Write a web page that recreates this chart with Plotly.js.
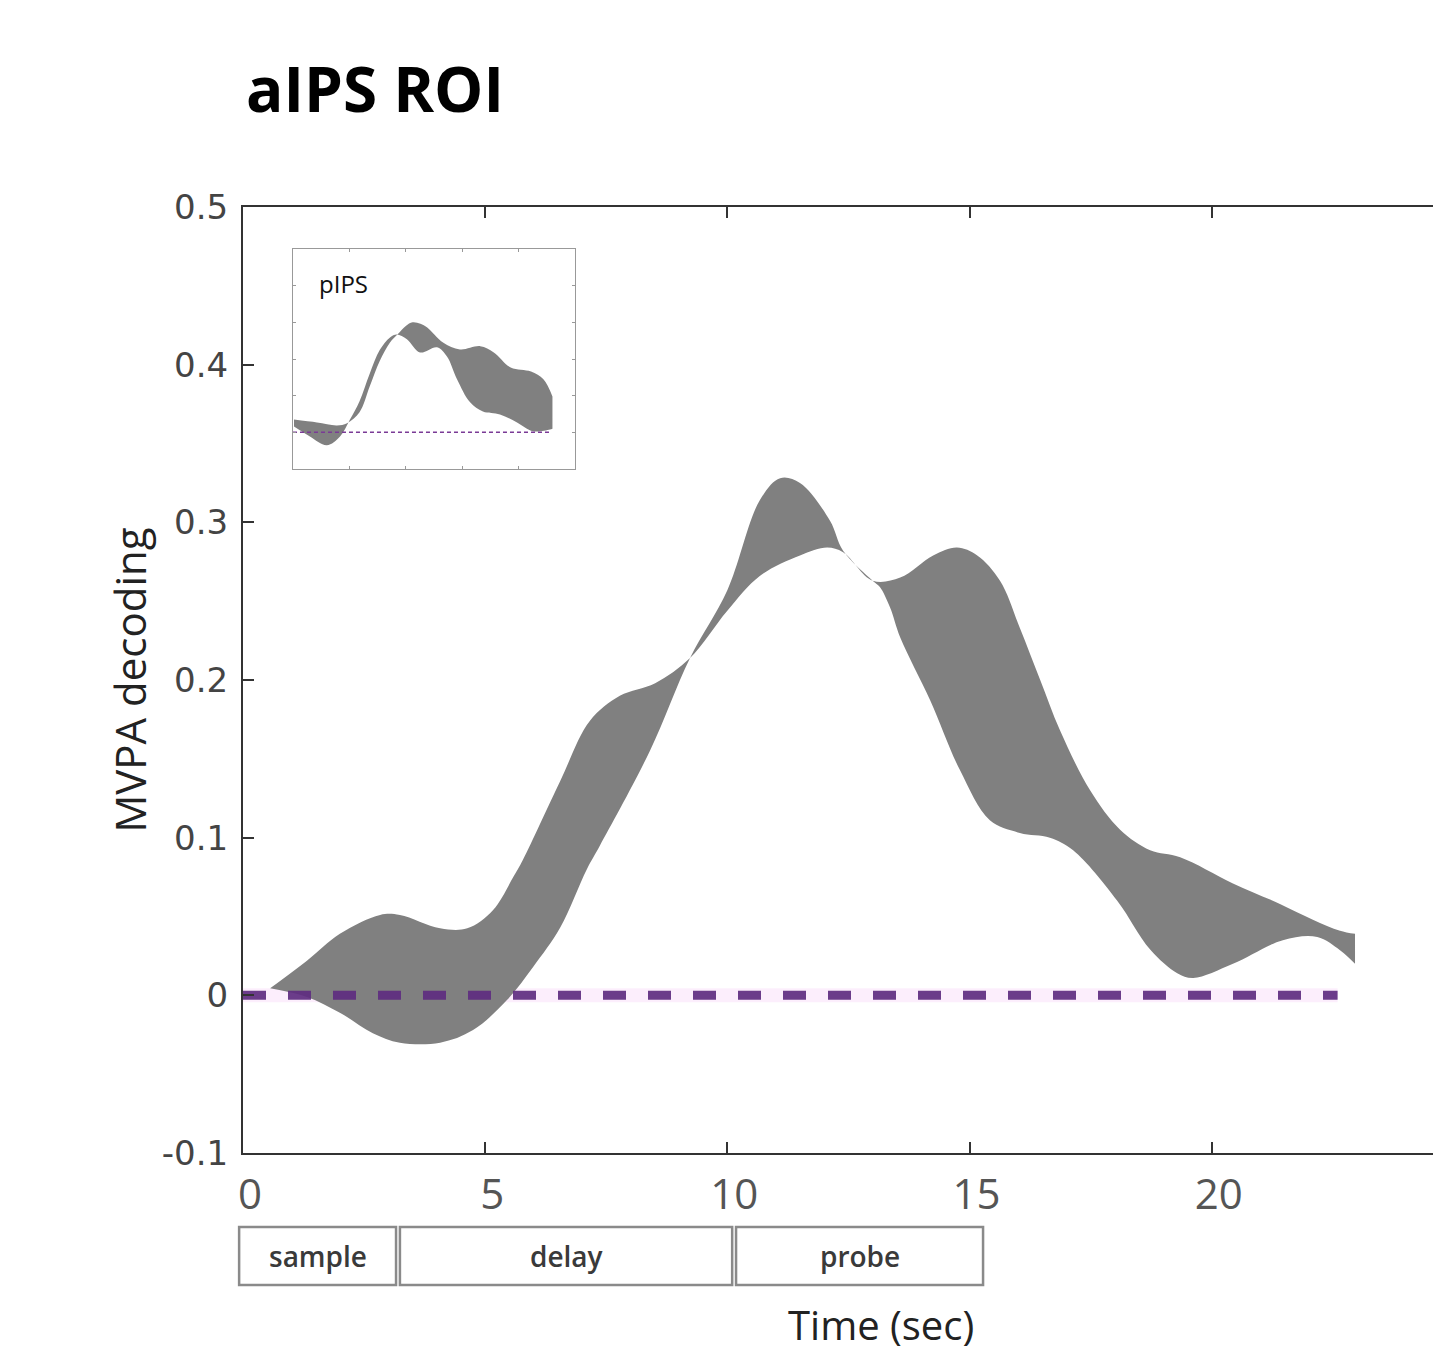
<!DOCTYPE html>
<html>
<head>
<meta charset="utf-8">
<script src="https://cdn.plot.ly/plotly-3.0.1.min.js"></script>
<style>
  html, body { margin: 0; padding: 0; background: #ffffff; }
  #chart { width: 1433px; height: 1355px; }
</style>
</head>
<body>
<div id="chart"></div>
<script>
// ---- Data ----
// aIPS main band: two bounding curves (they cross, the band is filled between them)
const aipsTimeA = [0.56, 1.32, 2.0, 2.83, 3.24, 4.07, 4.63, 5.16, 5.58, 5.78, 6.55, 7.16, 7.78, 8.51, 9.23, 10.0, 10.67, 11.5, 12.06, 12.39, 13.0, 13.57, 14.25, 14.74, 15.16, 15.63, 16.04, 16.46, 16.87, 17.49, 18.11, 18.73, 19.35, 20.44, 21.41, 22.09, 22.65, 22.96];
const aipsValA  = [0.0045, 0.022, 0.039, 0.051, 0.051, 0.0425, 0.0425, 0.054, 0.075, 0.086, 0.136, 0.174, 0.190, 0.198, 0.214, 0.244, 0.266, 0.279, 0.284, 0.281, 0.263, 0.265, 0.279, 0.284, 0.279, 0.263, 0.233, 0.200, 0.168, 0.130, 0.105, 0.092, 0.0876, 0.071, 0.058, 0.048, 0.041, 0.039];
const aipsTimeB = [0.56, 1.32, 2.0, 2.68, 3.24, 4.07, 4.75, 5.45, 5.99, 6.55, 7.1, 7.37, 8.4, 9.23, 10.0, 10.67, 11.09, 11.5, 12.12, 12.39, 13.0, 13.15, 13.36, 13.57, 14.19, 14.8, 15.42, 16.04, 16.66, 17.14, 18.05, 18.73, 19.29, 19.62, 20.44, 21.47, 22.18, 22.65, 22.96];
const aipsValB  = [0.0045, -0.001, -0.011, -0.024, -0.030, -0.030, -0.022, -0.003, 0.018, 0.043, 0.080, 0.095, 0.155, 0.214, 0.257, 0.314, 0.328, 0.325, 0.301, 0.282, 0.263, 0.259, 0.246, 0.227, 0.187, 0.143, 0.111, 0.103, 0.100, 0.092, 0.060, 0.029, 0.014, 0.011, 0.020, 0.035, 0.037, 0.0286, 0.020];

// pIPS inset band
const pipsTimeP = [0.09, 2.13, 3.9, 4.79, 5.9, 6.8, 7.7, 8.6, 9.3, 10.0, 10.6, 11.3, 11.9, 13.3, 14.8, 16.6, 17.8, 19.3, 21.1, 22.2, 23.0];
const pipsValP  = [0.035, 0.027, 0.019, 0.025, 0.055, 0.125, 0.195, 0.245, 0.268, 0.290, 0.300, 0.296, 0.286, 0.245, 0.226, 0.235, 0.218, 0.177, 0.166, 0.145, 0.098];
const pipsTimeQ = [0.09, 1.5, 3.0, 4.17, 5.05, 5.9, 6.8, 7.7, 8.6, 9.2, 10.1, 11.26, 12.77, 13.65, 14.54, 15.7, 16.84, 18.35, 19.86, 21.28, 22.78, 23.0];
const pipsValQ  = [0.016, -0.011, -0.035, -0.011, 0.035, 0.085, 0.160, 0.225, 0.259, 0.267, 0.254, 0.218, 0.232, 0.207, 0.145, 0.082, 0.057, 0.049, 0.027, 0.003, 0.008, 0.010];

// chance level lines
const chanceTimeMain = [0, 22.6];
const chanceTimeInset = [0, 22.8];
const chanceVal = [0, 0];

// axis ticks
const xTickVals = [0, 5, 10, 15, 20];
const xTickText = ['0', '5', '10', '15', '20'];
const yTickVals = [-0.1, 0, 0.1, 0.2, 0.3, 0.4, 0.5];
const yTickText = ['-0.1', '0', '0.1', '0.2', '0.3', '0.4', '0.5'];
const insetXTicks = [0, 5, 10, 15, 20, 25];
const insetYTicks = [-0.1, 0, 0.1, 0.2, 0.3, 0.4, 0.5];

// trial phases (seconds)
const phaseNames = ['sample', 'delay', 'probe'];
const phaseStart = [-0.08, 3.24, 10.18];
const phaseEnd   = [3.16, 10.1, 15.28];

// ---- Styles ----
const BAND = '#808080';
const PURPLE = '#5e2c80';
const CAL = '"Open Sans", "Liberation Sans", sans-serif';
const X_RANGE = [0, 24.57];

const traces = [
  { x: chanceTimeMain, y: chanceVal, type: 'scatter', mode: 'lines',
    line: { color: 'rgba(246,205,246,0.35)', width: 14 }, hoverinfo: 'skip', showlegend: false },
  { x: aipsTimeA, y: aipsValA, type: 'scatter', mode: 'lines',
    line: { color: BAND, width: 0, shape: 'spline', smoothing: 1 },
    hoverinfo: 'skip', showlegend: false },
  { x: aipsTimeB, y: aipsValB, type: 'scatter', mode: 'lines', fill: 'tonexty',
    fillcolor: BAND, line: { color: BAND, width: 0, shape: 'spline', smoothing: 1 },
    hoverinfo: 'skip', showlegend: false },
  { x: chanceTimeMain, y: chanceVal, type: 'scatter', mode: 'lines',
    line: { color: PURPLE, width: 9, dash: '23px,22px' }, opacity: 0.92, hoverinfo: 'skip', showlegend: false },
  // inset
  { x: pipsTimeP, y: pipsValP, xaxis: 'x2', yaxis: 'y2', type: 'scatter', mode: 'lines',
    line: { color: BAND, width: 0, shape: 'spline', smoothing: 1 },
    hoverinfo: 'skip', showlegend: false },
  { x: pipsTimeQ, y: pipsValQ, xaxis: 'x2', yaxis: 'y2', type: 'scatter', mode: 'lines',
    fill: 'tonexty', fillcolor: BAND,
    line: { color: BAND, width: 0, shape: 'spline', smoothing: 1 },
    hoverinfo: 'skip', showlegend: false },
  { x: chanceTimeInset, y: chanceVal, xaxis: 'x2', yaxis: 'y2', type: 'scatter', mode: 'lines',
    line: { color: '#7a3a96', width: 1.5, dash: '4px,3px' }, hoverinfo: 'skip', showlegend: false }
];

// convert a time value to a paper fraction along the main x axis
function toPaperX(t) { return (t - X_RANGE[0]) / (X_RANGE[1] - X_RANGE[0]); }

const shapes = [];
const annotations = [];
for (let i = 0; i < phaseNames.length; i++) {
  shapes.push({ type: 'rect', xref: 'paper', yref: 'paper',
    x0: toPaperX(phaseStart[i]), x1: toPaperX(phaseEnd[i]), y0: -0.1395, y1: -0.0782,
    line: { color: '#8a8a8a', width: 2.5 }, fillcolor: 'rgba(0,0,0,0)' });
  annotations.push({ xref: 'paper', yref: 'paper', x: toPaperX((phaseStart[i] + phaseEnd[i]) / 2), y: -0.109,
    text: phaseNames[i], showarrow: false, xanchor: 'center', yanchor: 'middle',
    font: { family: CAL, size: 28, color: '#3a3a3a', weight: 600 } });
}
annotations.push({ xref: 'paper', yref: 'paper', x: 0.536, y: -0.150, xanchor: 'center', yanchor: 'top',
  text: 'Time (sec)', showarrow: false, font: { family: CAL, size: 40, color: '#222' } });
annotations.push({ xref: 'x2', yref: 'y2', x: 2.1, y: 0.405, xanchor: 'left', yanchor: 'middle',
  text: 'pIPS', showarrow: false, font: { family: CAL, size: 24, color: '#111' } });

const layout = {
  width: 1433, height: 1355,
  margin: { l: 243, r: 0, t: 207, b: 202 },
  paper_bgcolor: '#ffffff', plot_bgcolor: '#ffffff',
  showlegend: false,
  title: { text: '<b>aIPS ROI</b>', xref: 'container', yref: 'container',
    x: 246 / 1433, xanchor: 'left', y: 1 - 90 / 1355, yanchor: 'middle',
    font: { family: CAL, size: 62, color: '#000' } },
  xaxis: {
    range: X_RANGE, tickvals: xTickVals, ticktext: xTickText,
    ticks: 'inside', ticklen: 11, tickwidth: 2, tickcolor: '#333',
    showline: true, linewidth: 2, linecolor: '#333', mirror: 'ticks',
    showgrid: false, zeroline: false, ticklabelshift: 7, ticklabelstandoff: 4,
    tickfont: { family: CAL, size: 42, color: '#555' }
  },
  yaxis: {
    range: [-0.1, 0.5], tickvals: yTickVals, ticktext: yTickText,
    ticks: 'inside', ticklen: 11, tickwidth: 2, tickcolor: '#333',
    showline: true, linewidth: 2, linecolor: '#333', mirror: false,
    showgrid: false, zeroline: false, ticklabelstandoff: 6,
    tickfont: { family: '"DejaVu Sans", sans-serif', size: 34, color: '#444' },
    title: { text: 'MVPA decoding', standoff: 2, font: { family: CAL, size: 42, color: '#222' } }
  },
  xaxis2: {
    domain: [0.042, 0.279], anchor: 'y2', range: [0, 25], tickvals: insetXTicks,
    ticks: 'inside', ticklen: 3, tickwidth: 1, tickcolor: '#999',
    showline: true, linewidth: 1, linecolor: '#999', mirror: 'allticks',
    showgrid: false, zeroline: false, showticklabels: false
  },
  yaxis2: {
    domain: [0.723, 0.9556], anchor: 'x2', range: [-0.1, 0.5], tickvals: insetYTicks,
    ticks: 'inside', ticklen: 3, tickwidth: 1, tickcolor: '#999',
    showline: true, linewidth: 1, linecolor: '#999', mirror: 'allticks',
    showgrid: false, zeroline: false, showticklabels: false
  },
  shapes: shapes,
  annotations: annotations
};

Plotly.newPlot('chart', traces, layout, { displayModeBar: false, staticPlot: true });
</script>
</body>
</html>
